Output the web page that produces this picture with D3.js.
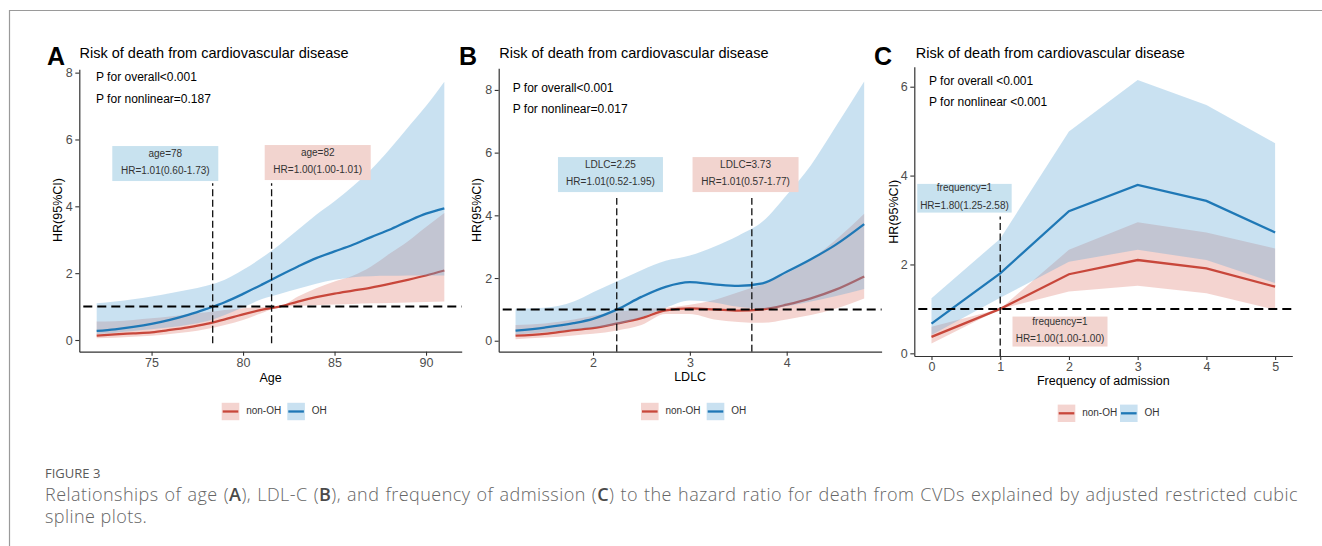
<!DOCTYPE html>
<html><head><meta charset="utf-8">
<script src="https://cdn.jsdelivr.net/npm/d3@7"></script>
<style>body{margin:0;background:#fff;} svg{display:block;}</style>
</head><body>
<svg id="fig" width="1322" height="546"></svg>
<script>
// ---------------- data ----------------
// Panel A: Age
const ageX      = [72,73,74,75,76,77,78,79,80,81,82,83,84,85,86,87,88,89,90,91];
const ageNon    = [0.13,0.17,0.20,0.23,0.30,0.38,0.48,0.62,0.77,0.90,1.00,1.15,1.28,1.39,1.48,1.57,1.68,1.80,1.93,2.08];
const ageNonLo  = [0.05,0.07,0.10,0.13,0.18,0.24,0.33,0.45,0.60,0.80,0.99,1.02,1.04,1.06,1.08,1.10,1.11,1.12,1.14,1.15];
const ageNonHi  = [0.55,0.56,0.60,0.65,0.70,0.77,0.83,0.90,0.95,0.99,1.01,1.30,1.55,1.75,1.92,2.20,2.58,2.95,3.38,3.80];
const ageOH     = [0.27,0.32,0.39,0.48,0.60,0.75,0.93,1.13,1.38,1.65,1.93,2.20,2.45,2.65,2.85,3.08,3.30,3.55,3.78,3.94];
const ageOHLo   = [0.18,0.22,0.27,0.32,0.38,0.46,0.56,0.75,0.98,1.22,1.38,1.53,1.68,1.80,1.88,1.91,1.92,1.93,1.93,1.93];
const ageOHHi   = [1.10,1.15,1.22,1.30,1.40,1.50,1.62,1.80,2.10,2.45,2.85,3.30,3.75,4.15,4.60,5.10,5.70,6.35,7.00,7.73];
const ageXTicks = [75,80,85,90];
const ageYTicks = [0,2,4,6,8];
const ageRefs   = [78.34, 81.56];
const ageLabels = [["age=78","HR=1.01(0.60-1.73)"],["age=82","HR=1.00(1.00-1.01)"]];
const ageP      = ["P for overall<0.001","P for nonlinear=0.187"];

// Panel B: LDLC
const ldlX      = [1.2,1.5,1.8,2.0,2.25,2.5,2.75,3.0,3.25,3.5,3.75,4.0,4.25,4.5,4.8];
const ldlNon    = [0.16,0.22,0.34,0.40,0.55,0.72,0.97,1.03,1.00,0.96,1.00,1.15,1.35,1.62,2.05];
const ldlNonLo  = [0.05,0.10,0.17,0.22,0.33,0.50,0.85,0.85,0.68,0.60,0.57,0.68,0.82,1.02,1.35];
const ldlNonHi  = [0.50,0.55,0.68,0.80,0.93,1.00,1.05,1.15,1.30,1.55,1.80,2.15,2.60,3.20,4.05];
const ldlOH     = [0.32,0.42,0.56,0.70,1.00,1.40,1.72,1.87,1.80,1.75,1.83,2.20,2.60,3.05,3.72];
const ldlOHLo   = [0.20,0.27,0.36,0.42,0.52,0.75,1.05,1.28,1.22,1.08,1.02,1.10,1.25,1.42,1.65];
const ldlOHHi   = [1.02,1.05,1.25,1.55,1.90,2.25,2.55,2.72,3.00,3.35,3.80,4.65,5.60,6.80,8.27];
const ldlXTicks = [2,3,4];
const ldlYTicks = [0,2,4,6,8];
const ldlRefs   = [2.245, 3.64];
const ldlLabels = [["LDLC=2.25","HR=1.01(0.52-1.95)"],["LDLC=3.73","HR=1.01(0.57-1.77)"]];
const ldlP      = ["P for overall<0.001","P for nonlinear=0.017"];

// Panel C: Frequency of admission
const freqX      = [0,1,2,3,4,5];
const freqNon    = [0.37,1.00,1.78,2.10,1.91,1.50];
const freqNonLo  = [0.22,1.00,1.39,1.52,1.35,0.98];
const freqNonHi  = [0.60,1.00,2.33,2.95,2.72,2.36];
const freqOH     = [0.67,1.80,3.20,3.79,3.43,2.72];
const freqOHLo   = [0.41,1.25,2.06,2.33,2.10,1.58];
const freqOHHi   = [1.24,2.58,4.99,6.15,5.59,4.73];
const freqXTicks = [0,1,2,3,4,5];
const freqYTicks = [0,2,4,6];
const freqRefs   = [1];
const freqLabels = [["frequency=1","HR=1.80(1.25-2.58)"],["frequency=1","HR=1.00(1.00-1.00)"]];
const freqP      = ["P for overall <0.001","P for nonlinear <0.001"];

const seriesNames = ["non-OH","OH"];
const titleText = "Risk of death from cardiovascular disease";
const yTitle = "HR(95%CI)";

// ---------------- styles ----------------
const RED = "#c8473b", BLUE = "#1f78b6";
const RED_FILL = "rgb(214,100,85)", RED_OP = 0.28;
const BLUE_FILL = "rgb(100,170,215)", BLUE_OP = 0.35;
const RED_BOX = "#f2d4cf", BLUE_BOX = "#c8e2ef";
const FONT = "'Liberation Sans', Arial, sans-serif";

const svg = d3.select("#fig");
svg.append("rect").attr("width",1322).attr("height",546).attr("fill","#fff");

function drawPanel(p) {
  const x = d3.scaleLinear().domain(p.xDomain).range(p.xRange);
  const y = d3.scaleLinear().domain(p.yDomain).range(p.yRange);
  const rows = p.xs.map((v,i)=>({x:v, n:p.non[i], nl:p.nonLo[i], nh:p.nonHi[i],
                                 o:p.oh[i], ol:p.ohLo[i], oh:p.ohHi[i]}));
  const g = svg.append("g");
  const band = (lo,hi)=>d3.area().curve(p.curve).x(d=>x(d.x)).y0(d=>y(d[lo])).y1(d=>y(d[hi]));
  const line = k=>d3.line().curve(p.curve).x(d=>x(d.x)).y(d=>y(d[k]));

  g.append("path").datum(rows).attr("d", band("nl","nh")).attr("fill", RED_FILL).attr("fill-opacity", RED_OP);
  g.append("path").datum(rows).attr("d", line("n")).attr("fill","none").attr("stroke",RED).attr("stroke-width",2.3);
  g.append("path").datum(rows).attr("d", band("ol","oh")).attr("fill", BLUE_FILL).attr("fill-opacity", BLUE_OP);
  g.append("path").datum(rows).attr("d", line("o")).attr("fill","none").attr("stroke",BLUE).attr("stroke-width",2.3);

  // reference line HR = 1
  g.append("line").attr("x1", p.xRange[0]+4).attr("x2", p.xRange[1])
    .attr("y1", y(1)).attr("y2", y(1))
    .attr("stroke","#000").attr("stroke-width",2).attr("stroke-dasharray","9,5");

  // vertical reference lines
  p.refs.forEach(r=>{
    g.append("line").attr("x1",x(r)).attr("x2",x(r))
      .attr("y1",y(p.vlineY[0])).attr("y2",y(p.vlineY[1]))
      .attr("stroke","#111").attr("stroke-width",1.3).attr("stroke-dasharray","7,3.5");
  });

  // annotation boxes
  p.labels.forEach((lab,i)=>{
    const pos = p.labelPos[i];
    const cx = x(pos.x), cy = y(pos.y);
    g.append("rect").attr("x",cx-pos.w/2).attr("y",cy-pos.h/2).attr("width",pos.w).attr("height",pos.h)
      .attr("fill", i===0 ? BLUE_BOX : RED_BOX);
    g.append("text").attr("x",cx).attr("y",cy-9.5).attr("text-anchor","middle").attr("dominant-baseline","middle")
      .attr("font-family",FONT).attr("font-size",10).attr("fill","#333").text(lab[0]);
    g.append("text").attr("x",cx).attr("y",cy+7.8).attr("text-anchor","middle").attr("dominant-baseline","middle")
      .attr("font-family",FONT).attr("font-size",10).attr("fill","#333").text(lab[1]);
  });

  // axes
  const fmt = d3.format("d");
  const xa = g.append("g").attr("transform",`translate(0,${p.yRange[0]})`)
    .call(d3.axisBottom(x).tickValues(p.xTicks).tickFormat(fmt).tickSize(4).tickSizeOuter(0).tickPadding(2.5));
  const ya = g.append("g").attr("transform",`translate(${p.xRange[0]},0)`)
    .call(d3.axisLeft(y).tickValues(p.yTicks).tickFormat(fmt).tickSize(4).tickSizeOuter(0).tickPadding(2.5));
  [xa,ya].forEach(a=>{
    a.select(".domain").attr("stroke","#333").attr("stroke-width",1.2);
    a.selectAll(".tick line").attr("stroke","#333").attr("stroke-width",1.1);
    a.selectAll(".tick text").attr("font-family",FONT).attr("font-size",12.5).attr("fill","#4d4d4d");
  });

  // panel letter + title
  g.append("text").attr("x",p.letterX).attr("y",65).attr("font-family",FONT).attr("font-weight","bold")
    .attr("font-size",25).attr("fill","#000").text(p.letter);
  g.append("text").attr("x",p.titleX).attr("y",58).attr("font-family",FONT)
    .attr("font-size",14.5).attr("fill","#000").text(titleText);

  // p-values
  p.pText.forEach((t,i)=>{
    g.append("text").attr("x",p.pX).attr("y",p.pY[i]).attr("font-family",FONT)
      .attr("font-size",12).attr("fill","#000").text(t);
  });

  // axis titles
  g.append("text").attr("x",(p.xRange[0]+p.xRange[1])/2).attr("y",p.xTitleY).attr("text-anchor","middle")
    .attr("font-family",FONT).attr("font-size",12.5).attr("fill","#000").text(p.xTitle);
  g.append("text").attr("transform",`translate(${p.yTitleX},${p.yTitleCY}) rotate(-90)`)
    .attr("text-anchor","middle").attr("dominant-baseline","middle")
    .attr("font-family",FONT).attr("font-size",12.5).attr("fill","#000").text(yTitle);

  // legend
  const keys = [{fill:RED_FILL, op:RED_OP, stroke:RED}, {fill:BLUE_FILL, op:BLUE_OP, stroke:BLUE}];
  keys.forEach((k,i)=>{
    const kx = p.legendX[i], ly = p.legendY;
    g.append("rect").attr("x",kx).attr("y",ly-8.7).attr("width",17.6).attr("height",17.4)
      .attr("fill",k.fill).attr("fill-opacity",k.op);
    g.append("line").attr("x1",kx+1).attr("x2",kx+16.6).attr("y1",ly).attr("y2",ly)
      .attr("stroke",k.stroke).attr("stroke-width",2.3);
    g.append("text").attr("x",kx+24.5).attr("y",ly).attr("dominant-baseline","middle")
      .attr("font-family",FONT).attr("font-size",10).attr("fill","#333").text(seriesNames[i]);
  });
}

drawPanel({
  xs: ageX, non: ageNon, nonLo: ageNonLo, nonHi: ageNonHi, oh: ageOH, ohLo: ageOHLo, ohHi: ageOHHi,
  xDomain:[71.05,91.95], xRange:[79.3,461.7], yDomain:[-0.35,8.1], yRange:[351.7,69.3],
  curve: d3.curveMonotoneX, xTicks: ageXTicks, yTicks: ageYTicks,
  refs: ageRefs, vlineY:[-0.1,4.69],
  labels: ageLabels, labelPos:[{x:75.75,y:5.28,w:106,h:35},{x:84.08,y:5.31,w:106,h:35}],
  letter:"A", letterX:47, titleX:79.5, pText: ageP, pX:96, pY:[81,102.7],
  xTitle:"Age", xTitleY:382, yTitleX:58.3, yTitleCY:210,
  legendX:[221.7,287.3], legendY:411.5
});
drawPanel({
  xs: ldlX, non: ldlNon, nonLo: ldlNonLo, nonHi: ldlNonHi, oh: ldlOH, ohLo: ldlOHLo, ohHi: ldlOHHi,
  xDomain:[1.026,4.98], xRange:[498.7,881.6], yDomain:[-0.35,8.69], yRange:[351.7,68.3],
  curve: d3.curveMonotoneX, xTicks: ldlXTicks, yTicks: ldlYTicks,
  refs: ldlRefs, vlineY:[-0.35,4.55],
  labels: ldlLabels, labelPos:[{x:2.18,y:5.3,w:105,h:35},{x:3.575,y:5.3,w:106,h:35}],
  letter:"B", letterX:459, titleX:499.3, pText: ldlP, pX:512.7, pY:[91.5,113],
  xTitle:"LDLC", xTitleY:381, yTitleX:477.3, yTitleCY:210,
  legendX:[641,706.7], legendY:411.5
});
drawPanel({
  xs: freqX, non: freqNon, nonLo: freqNonLo, nonHi: freqNonHi, oh: freqOH, ohLo: freqOHLo, ohHi: freqOHHi,
  xDomain:[-0.25,5.25], xRange:[914.3,1292.3], yDomain:[-0.06,6.45], yRange:[356,66.7],
  curve: d3.curveLinear, xTicks: freqXTicks, yTicks: freqYTicks,
  refs: freqRefs, vlineY:[-0.06,3.08],
  labels: freqLabels, labelPos:[{x:0.48,y:3.49,w:94.4,h:28.7},{x:1.87,y:0.49,w:95,h:30}],
  letter:"C", letterX:874, titleX:915.7, pText: freqP, pX:929, pY:[85,106],
  xTitle:"Frequency of admission", xTitleY:385, yTitleX:894.3, yTitleCY:211.7,
  legendX:[1057.7,1120], legendY:413.3
});

// frame lines
svg.append("line").attr("x1",9).attr("x2",1322).attr("y1",10.5).attr("y2",10.5).attr("stroke","#9a9a9a").attr("stroke-width",1.2);
svg.append("line").attr("x1",9.5).attr("x2",9.5).attr("y1",10).attr("y2",546).attr("stroke","#9a9a9a").attr("stroke-width",1.2);

// caption
const CAP_FONT = "'Open Sans', 'Noto Sans', sans-serif";
const CAP_X = 45, CAP_W = 1253;
svg.append("text").attr("x",CAP_X).attr("y",478).attr("font-family",CAP_FONT).attr("font-size",13)
  .attr("fill","#5a5a5a").text("FIGURE 3");
const cap1 = svg.append("text").attr("x",CAP_X).attr("y",501).attr("font-family",CAP_FONT).attr("font-size",18)
  .attr("font-weight",300).attr("fill","#666").style("letter-spacing","0.45px");
const capSegs = [["Relationships of age (",300],["A",600],["), LDL-C (",300],["B",600],["), and frequency of admission (",300],["C",600],
 [") to the hazard ratio for death from CVDs explained by adjusted restricted cubic",300]];
capSegs.forEach(s=>{
  cap1.append("tspan").attr("font-weight",s[1]).attr("fill", s[1]===600?"#4a4a4a":"#666").text(s[0]);
});
// justify the first line by stretching the word gaps
const natural = cap1.node().getComputedTextLength();
const nSpaces = capSegs.map(s=>s[0]).join("").split(" ").length - 1;
cap1.style("word-spacing", Math.max(0,(CAP_W - natural)/nSpaces) + "px");
svg.append("text").attr("x",CAP_X).attr("y",523).attr("font-family",CAP_FONT).attr("font-size",18)
  .attr("font-weight",300).attr("fill","#666").style("letter-spacing","0.45px").text("spline plots.");
</script>
</body></html>
